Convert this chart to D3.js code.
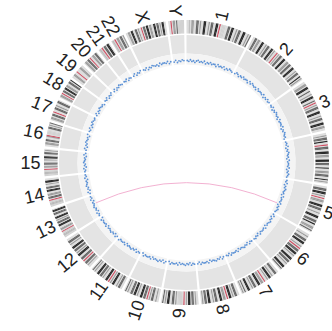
<!DOCTYPE html>
<html>
<head>
<meta charset="utf-8">
<script src="https://cdn.jsdelivr.net/npm/d3@7"></script>
<style>
  html, body { margin: 0; padding: 0; background: #fff; }
  svg { display: block; }
</style>
</head>
<body>
<svg id="chart" width="332" height="331"></svg>
<script>
// Chromosomes and their lengths (Mb, hg19)
const chromosomes = ["1","2","3","4","5","6","7","8","9","10","11","12",
  "13","14","15","16","17","18","19","20","21","22","X","Y"];
const chromLengths = [249.25, 243.2, 198.0, 191.15, 180.9, 171.1, 159.1, 146.4,
  141.2, 135.5, 135.0, 133.9, 115.2, 107.3, 102.5, 90.4, 81.2, 78.1, 59.1, 63.0,
  48.1, 51.3, 155.3, 59.4];

// Simplified cytoband stain sequence per chromosome (equal-width bands)
// . gneg, 1 gpos25, 2 gpos50, 3 gpos75, 4 gpos100, a acen, v gvar, s stalk
const bandPatterns = [
  "..1.22..33.2..44..2.33..44.a.vvv..33.44..2.33..44..2.3",
  "..33.22..44..2.33..44.2..a.2.33..44..22.33..44..2.33..4.2.",
  "..22.44..3..2.44..3.a.2.33..44..2.33..44.22..",
  "..2.33.4..a.33..44.22..44.33..4..22.33..4.2.",
  "..33.44.2.a.22..44.33..2..44..33.4..22.3.",
  "..2..33.44..2.a.33.44.2..44.33.2..44.3.",
  "..33..2.44.2..a.22.44..33.2..44..3.2.",
  "..33.2.44.a.22.44..33.2..44.33.2.",
  "..2.33.44.2.a.vvvv.2.33..44.2.3.",
  "..2..33.2.a.33.44..2.44.33..2.3.",
  "..33.2..44.2.a.44..2.33.44..2.3.",
  "..2.33.a.33..44.2.33.44..2.33..",
  "vvssvva.22..44.33.2.44..33.44.",
  "vvssvva.33.22..44.33..2.44..",
  "vvssvva.22.33..2.44..33.2.",
  "..22.33..2a.vvv..33.2.3",
  ".22.33.a..33.2..33.",
  ".22.a.33.44.22..33.4",
  "..22..a...22..",
  ".22.33.a..22.33.",
  "vsva.33.44.",
  "vsva.22.33.2",
  "..22.44..33.2..a.33.44.22..44.33.2.44..",
  "..a.22.3vvvvvv"
];
const stainColors = {
  ".": "#dcdcdc", "1": "#c0c0c0", "2": "#9c9c9c", "3": "#676767",
  "4": "#2a2a2a", "a": "#d24e62", "v": "#d2d2d2", "s": "#bababa"
};

// Scatter track readings per chromosome (evenly spaced along each chromosome)
const scatterValues = [
  "5464535645463546455364546354654",
  "465354645536465453645546354645",
  "5463546545364554635465453",
  "454635465453645546354654",
  "54635465453645546354654",
  "463546545364554635465",
  "54635465453645546354",
  "463546545364554635",
  "546354654536455463",
  "46354654536455463",
  "54635465453645546",
  "46354654536455463",
  "54635465453645",
  "4635465453645",
  "5463546545364",
  "46354654536",
  "5463546545",
  "4635465453",
  "5463546",
  "46354654",
  "546354",
  "463546",
  "5463546545364554635",
  "4635465"
];

// Links: [chromA, posA (Mb), chromB, posB (Mb)]
const links = [["5", 132, "13", 71]];

const svg = d3.select("#chart");
const cx = 186.5, cy = 162.5;
const g = svg.append("g").attr("transform", `translate(${cx},${cy})`);

const gapDeg = 1.0;
const total = d3.sum(chromLengths);
const degPerMb = (360 - gapDeg * chromosomes.length) / total;

// angular scale for each chromosome (degrees, clockwise from 12 o'clock)
const scales = {};
let cursor = 0;
chromosomes.forEach((c, i) => {
  const start = cursor, end = cursor + chromLengths[i] * degPerMb;
  scales[c] = d3.scaleLinear().domain([0, chromLengths[i]]).range([start, end]);
  cursor = end + gapDeg;
});
const rad = d => d * Math.PI / 180;
const polar = (r, deg) => [r * Math.sin(rad(deg)), -r * Math.cos(rad(deg))];

const rIdeoIn = 129, rIdeoOut = 142.5;
const rTrackIn = 109, rTrackOut = 127.5;
const rScatIn = 98, rScatOut = 106;
const rLabel = 146;

// ideogram bands
chromosomes.forEach((c, i) => {
  const s = scales[c];
  const pat = bandPatterns[i];
  const step = chromLengths[i] / pat.length;
  const bands = pat.split("").map((k, j) => ({ k, a: j * step, b: (j + 1) * step }));
  g.append("g").selectAll("path").data(bands).join("path")
    .attr("d", d => d3.arc()({
      innerRadius: rIdeoIn, outerRadius: rIdeoOut,
      startAngle: rad(s(d.a)), endAngle: rad(s(d.b)) + (d.b < chromLengths[i] - 1e-6 ? 0.002 : 0)
    }))
    .attr("fill", d => stainColors[d.k]);
});

// background tracks
const track = g.append("g");
chromosomes.forEach((c, i) => {
  const s = scales[c];
  track.append("path")
    .attr("d", d3.arc()({ innerRadius: rTrackIn, outerRadius: rTrackOut,
      startAngle: rad(s(0)), endAngle: rad(s(chromLengths[i])) }))
    .attr("fill", "#e4e4e4");
  track.append("path")
    .attr("d", d3.arc()({ innerRadius: rScatIn, outerRadius: rTrackIn,
      startAngle: rad(s(0)), endAngle: rad(s(chromLengths[i])) }))
    .attr("fill", "#f4f4f4");
});

// scatter points
const rVal = d3.scaleLinear().domain([0, 10]).range([rScatIn, rScatOut]);
const pts = g.append("g");
chromosomes.forEach((c, i) => {
  const s = scales[c];
  const vals = scatterValues[i].split("").map(Number);
  const step = chromLengths[i] / vals.length;
  pts.selectAll(null).data(vals).join("circle")
    .attr("cx", (v, j) => polar(rVal(v), s((j + 0.5) * step))[0])
    .attr("cy", (v, j) => polar(rVal(v), s((j + 0.5) * step))[1])
    .attr("r", 0.9)
    .attr("fill", "#3f7fd0")
    .attr("fill-opacity", 0.85);
});

// links
const rLink = 99;
g.append("g").selectAll("path").data(links).join("path")
  .attr("d", d => {
    const p = polar(rLink, scales[d[0]](d[1]));
    const q = polar(rLink, scales[d[2]](d[3]));
    return `M${p[0]},${p[1]} Q0,0 ${q[0]},${q[1]}`;
  })
  .attr("fill", "none")
  .attr("stroke", "#f0a8cc")
  .attr("stroke-width", 0.9);

// chromosome labels, radial and turned to stay readable
g.append("g").selectAll("text").data(chromosomes).join("text")
  .attr("transform", (c, i) => {
    const mid = scales[c](chromLengths[i] / 2);
    return mid < 180
      ? `rotate(${mid - 90}) translate(${rLabel},0)`
      : `rotate(${mid - 90}) translate(${rLabel},0) rotate(180)`;
  })
  .attr("text-anchor", (c, i) => scales[c](chromLengths[i] / 2) < 180 ? "start" : "end")
  .attr("dominant-baseline", "central")
  .attr("font-family", "'Liberation Sans', Arial, Helvetica, sans-serif")
  .attr("font-size", 18)
  .attr("fill", "#222")
  .text(c => c);
</script>
</body>
</html>
